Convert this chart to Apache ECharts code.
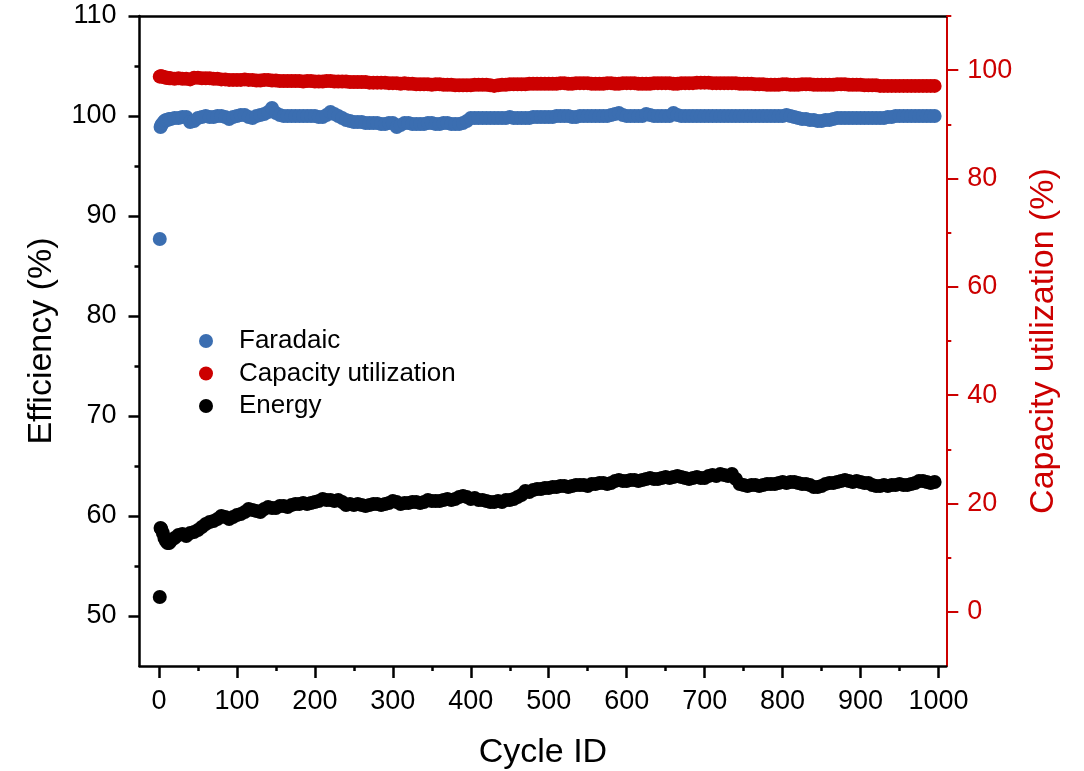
<!DOCTYPE html>
<html>
<head>
<meta charset="utf-8">
<script src="https://cdn.jsdelivr.net/npm/echarts@6/dist/echarts.min.js"></script>
<style>
  html, body { margin: 0; padding: 0; background: #fff; }
  #chart { width: 1084px; height: 771px; }
</style>
</head>
<body>
<div id="chart"></div>
<script>
// Cycle numbers at which the efficiencies are plotted
const cycles = [1, 2, 3, 5, 7, 9, 11, 13, 15,
  20, 25, 30, 35, 40, 45, 50, 55, 60, 65, 70, 75, 80, 85, 90, 95,
  100, 105, 110, 115, 120, 125, 130, 135, 140, 145, 150, 155, 160, 165, 170, 175, 180, 185, 190, 195,
  200, 205, 210, 215, 220, 225, 230, 235, 240, 245, 250, 255, 260, 265, 270, 275, 280, 285, 290, 295,
  300, 305, 310, 315, 320, 325, 330, 335, 340, 345, 350, 355, 360, 365, 370, 375, 380, 385, 390, 395,
  400, 405, 410, 415, 420, 425, 430, 435, 440, 445, 450, 455, 460, 465, 470, 475, 480, 485, 490, 495,
  500, 505, 510, 515, 520, 525, 530, 535, 540, 545, 550, 555, 560, 565, 570, 575, 580, 585, 590, 595,
  600, 605, 610, 615, 620, 625, 630, 635, 640, 645, 650, 655, 660, 665, 670, 675, 680, 685, 690, 695,
  700, 705, 710, 715, 720, 725, 730, 735, 740, 745, 750, 755, 760, 765, 770, 775, 780, 785, 790, 795,
  800, 805, 810, 815, 820, 825, 830, 835, 840, 845, 850, 855, 860, 865, 870, 875, 880, 885, 890, 895,
  900, 905, 910, 915, 920, 925, 930, 935, 940, 945, 950, 955, 960, 965, 970, 975, 980, 985, 990, 995];

// Faradaic efficiency (%), left axis
const faradaic = [87.7, 98.9, 99.1, 99.3, 99.5, 99.6, 99.6, 99.7, 99.7,
  99.8, 99.8, 99.9, 99.9, 99.4, 99.5, 99.8, 99.9, 100.0, 99.9, 99.9, 100.0, 100.0, 99.9, 99.7, 99.9,
  100.0, 100.1, 100.1, 99.9, 99.8, 100.0, 100.1, 100.2, 100.4, 100.8, 100.3, 100.1, 100.0, 100.0, 100.0, 100.0, 100.0, 100.0, 100.0, 100.0,
  100.0, 99.9, 99.9, 100.1, 100.4, 100.2, 100.0, 99.8, 99.6, 99.5, 99.4, 99.4, 99.4, 99.3, 99.3, 99.3, 99.3, 99.2, 99.2, 99.3,
  99.3, 98.9, 99.1, 99.3, 99.3, 99.2, 99.2, 99.2, 99.2, 99.3, 99.3, 99.2, 99.2, 99.3, 99.3, 99.2, 99.2, 99.2, 99.3, 99.5,
  99.8, 99.8, 99.8, 99.8, 99.8, 99.8, 99.8, 99.8, 99.8, 99.8, 99.9, 99.8, 99.8, 99.8, 99.8, 99.8, 99.9, 99.9, 99.9, 99.9,
  99.9, 99.9, 100.0, 100.0, 100.0, 100.0, 99.9, 99.9, 100.0, 100.0, 100.0, 100.0, 100.0, 100.0, 100.0, 100.0, 100.1, 100.2, 100.3, 100.1,
  100.0, 100.0, 100.0, 100.0, 100.0, 100.2, 100.1, 100.0, 100.0, 100.0, 100.0, 100.0, 100.3, 100.1, 100.0, 100.0, 100.0, 100.0, 100.0, 100.0,
  100.0, 100.0, 100.0, 100.0, 100.0, 100.0, 100.0, 100.0, 100.0, 100.0, 100.0, 100.0, 100.0, 100.0, 100.0, 100.0, 100.0, 100.0, 100.0, 100.0,
  100.0, 100.1, 100.0, 99.9, 99.8, 99.7, 99.7, 99.6, 99.6, 99.5, 99.5, 99.6, 99.6, 99.7, 99.8, 99.8, 99.8, 99.8, 99.8, 99.8,
  99.8, 99.8, 99.8, 99.8, 99.8, 99.8, 99.8, 99.9, 99.9, 100.0, 100.0, 100.0, 100.0, 100.0, 100.0, 100.0, 100.0, 100.0, 100.0, 100.0];

// Capacity utilization (%), right axis
const capacity = [98.8, 98.9, 98.9, 98.8, 98.7, 98.6, 98.6, 98.5, 98.5,
  98.4, 98.5, 98.4, 98.4, 98.3, 98.6, 98.6, 98.5, 98.5, 98.5, 98.4, 98.4, 98.3, 98.3, 98.2, 98.2,
  98.2, 98.2, 98.3, 98.2, 98.2, 98.1, 98.1, 98.2, 98.2, 98.1, 98.1, 98.0, 98.0, 98.0, 98.0, 98.0, 98.0, 97.9, 98.0, 98.0,
  97.9, 97.9, 97.9, 98.0, 98.0, 97.9, 97.9, 97.9, 97.9, 97.8, 97.8, 97.8, 97.8, 97.8, 97.7, 97.7, 97.7, 97.7, 97.7, 97.6,
  97.6, 97.6, 97.5, 97.6, 97.5, 97.5, 97.4, 97.4, 97.4, 97.4, 97.3, 97.4, 97.4, 97.3, 97.3, 97.3, 97.2, 97.2, 97.2, 97.2,
  97.2, 97.3, 97.3, 97.3, 97.3, 97.2, 97.1, 97.2, 97.3, 97.3, 97.4, 97.4, 97.4, 97.4, 97.4, 97.5, 97.5, 97.5, 97.5, 97.5,
  97.5, 97.5, 97.5, 97.6, 97.6, 97.5, 97.5, 97.6, 97.6, 97.6, 97.6, 97.5, 97.5, 97.5, 97.5, 97.6, 97.6, 97.5, 97.5, 97.6,
  97.6, 97.6, 97.6, 97.5, 97.5, 97.5, 97.5, 97.6, 97.6, 97.6, 97.6, 97.6, 97.5, 97.5, 97.6, 97.6, 97.6, 97.6, 97.7, 97.7,
  97.7, 97.7, 97.6, 97.6, 97.6, 97.6, 97.6, 97.6, 97.6, 97.5, 97.5, 97.5, 97.5, 97.4, 97.4, 97.4, 97.3, 97.3, 97.3, 97.3,
  97.4, 97.4, 97.3, 97.3, 97.3, 97.4, 97.4, 97.4, 97.3, 97.3, 97.3, 97.3, 97.3, 97.3, 97.4, 97.4, 97.4, 97.3, 97.3, 97.3,
  97.3, 97.2, 97.2, 97.2, 97.2, 97.1, 97.1, 97.1, 97.1, 97.1, 97.1, 97.1, 97.1, 97.1, 97.1, 97.1, 97.1, 97.1, 97.1, 97.1];

// Energy efficiency (%), left axis
const energy = [51.9, 58.8, 58.7, 58.3, 57.8, 57.5, 57.3, 57.3, 57.5,
  57.8, 58.1, 58.2, 58.0, 58.3, 58.4, 58.6, 58.9, 59.2, 59.4, 59.5, 59.7, 60.0, 59.9, 59.7, 59.9,
  60.1, 60.2, 60.4, 60.7, 60.6, 60.5, 60.4, 60.7, 60.9, 60.8, 60.8, 61.0, 61.0, 60.9, 61.1, 61.2, 61.2, 61.3, 61.2, 61.3,
  61.4, 61.5, 61.7, 61.6, 61.6, 61.5, 61.6, 61.4, 61.1, 61.2, 61.1, 61.2, 61.1, 61.0, 61.1, 61.2, 61.2, 61.1, 61.2, 61.3,
  61.5, 61.4, 61.2, 61.3, 61.3, 61.4, 61.4, 61.3, 61.4, 61.6, 61.5, 61.5, 61.5, 61.6, 61.7, 61.6, 61.7, 61.9, 62.0, 61.9,
  61.7, 61.8, 61.6, 61.6, 61.5, 61.4, 61.4, 61.5, 61.4, 61.6, 61.6, 61.7, 61.9, 62.1, 62.5, 62.4, 62.6, 62.7, 62.7, 62.8,
  62.8, 62.9, 62.9, 63.0, 63.0, 62.9, 63.0, 63.1, 63.1, 63.1, 63.0, 63.2, 63.2, 63.3, 63.3, 63.2, 63.3, 63.5, 63.6, 63.5,
  63.5, 63.6, 63.6, 63.5, 63.6, 63.7, 63.8, 63.7, 63.7, 63.8, 63.9, 63.8, 63.9, 64.0, 63.9, 63.8, 63.7, 63.8, 63.9, 63.8,
  63.8, 64.0, 64.1, 64.0, 64.2, 64.1, 64.0, 64.2, 63.7, 63.2, 63.1, 63.0, 63.1, 63.1, 63.0, 63.1, 63.2, 63.2, 63.2, 63.3,
  63.4, 63.3, 63.4, 63.4, 63.3, 63.2, 63.2, 63.1, 62.9, 62.9, 63.0, 63.2, 63.3, 63.3, 63.4, 63.5, 63.6, 63.5, 63.4, 63.5,
  63.4, 63.3, 63.3, 63.1, 63.0, 63.0, 63.1, 63.0, 63.1, 63.1, 63.2, 63.1, 63.1, 63.2, 63.3, 63.5, 63.5, 63.4, 63.3, 63.4];

// Tick values
const xMajorTicks = [0, 100, 200, 300, 400, 500, 600, 700, 800, 900, 1000];
const xMinorTicks = [50, 150, 250, 350, 450, 550, 650, 750, 850, 950];
const leftMajorTicks = [50, 60, 70, 80, 90, 100, 110];
const leftMinorTicks = [55, 65, 75, 85, 95, 105];
const rightMajorTicks = [0, 20, 40, 60, 80, 100];
const rightMinorTicks = [10, 30, 50, 70, 90, 110];

const FONT = '"Liberation Sans", Arial, sans-serif';
const BLUE = '#3b6eb1';
const RED = '#cc0000';
const BLACK = '#000000';

const pairs = (ys) => cycles.map((c, i) => [c, ys[i]]);
const plain = (v) => String(v);

const X_MIN = -25, X_MAX = 1010;
const L_MIN = 45, L_MAX = 110;
const R_MIN = -10, R_MAX = 110;

const chart = echarts.init(document.getElementById('chart'), null, { renderer: 'canvas' });

chart.setOption({
  animation: false,
  backgroundColor: '#ffffff',
  grid: { left: 139.5, right: 137.7, top: 16, bottom: 105, containLabel: false, outerBoundsMode: 'none' },
  legend: {
    orient: 'vertical',
    left: 194,
    top: 323,
    itemWidth: 56,
    itemHeight: 14,
    itemGap: 6.5,
    icon: 'circle',
    textStyle: { fontFamily: FONT, fontSize: 26, color: '#000', lineHeight: 26 },
    data: ['Faradaic', 'Capacity utilization', 'Energy']
  },
  xAxis: [
    {
      type: 'value', position: 'bottom', min: X_MIN, max: X_MAX,
      name: 'Cycle ID', nameLocation: 'middle', nameGap: 70,
      nameTextStyle: { fontFamily: FONT, fontSize: 34, color: '#000' },
      axisLine: { show: true, onZero: false, lineStyle: { color: BLACK, width: 2.5 } },
      axisTick: { show: true, inside: false, length: 12, customValues: xMajorTicks, lineStyle: { color: BLACK, width: 2.5 } },
      axisLabel: { show: true, margin: 22, customValues: xMajorTicks, formatter: plain, fontFamily: FONT, fontSize: 27, color: '#000' },
      splitLine: { show: false }
    },
    {
      type: 'value', position: 'bottom', min: X_MIN, max: X_MAX,
      axisLine: { show: false, onZero: false },
      axisTick: { show: true, length: 5, customValues: xMinorTicks, lineStyle: { color: BLACK, width: 2.5 } },
      axisLabel: { show: false },
      splitLine: { show: false }
    },
    {
      type: 'value', position: 'top', min: X_MIN, max: X_MAX,
      axisLine: { show: true, onZero: false, lineStyle: { color: BLACK, width: 2.5 } },
      axisTick: { show: false },
      axisLabel: { show: false },
      splitLine: { show: false }
    }
  ],
  yAxis: [
    {
      type: 'value', position: 'left', min: L_MIN, max: L_MAX,
      name: 'Efficiency (%)', nameLocation: 'middle', nameGap: 81, nameRotate: 90,
      nameTextStyle: { fontFamily: FONT, fontSize: 34, color: '#000' },
      axisLine: { show: true, onZero: false, lineStyle: { color: BLACK, width: 2.5 } },
      axisTick: { show: true, length: 11, customValues: leftMajorTicks, lineStyle: { color: BLACK, width: 2.5 } },
      axisLabel: { show: true, margin: 23, customValues: leftMajorTicks, formatter: plain, fontFamily: FONT, fontSize: 27, color: '#000' },
      splitLine: { show: false }
    },
    {
      type: 'value', position: 'right', min: R_MIN, max: R_MAX,
      name: 'Capacity utilization (%)', nameLocation: 'middle', nameGap: 80, nameRotate: 90,
      nameTextStyle: { fontFamily: FONT, fontSize: 34, color: RED },
      axisLine: { show: true, onZero: false, lineStyle: { color: RED, width: 2 } },
      axisTick: { show: true, length: 12, customValues: rightMajorTicks, lineStyle: { color: RED, width: 2 } },
      axisLabel: { show: true, margin: 21, customValues: rightMajorTicks, formatter: plain, fontFamily: FONT, fontSize: 27, color: RED },
      splitLine: { show: false }
    },
    {
      type: 'value', position: 'left', min: L_MIN, max: L_MAX,
      axisLine: { show: false, onZero: false },
      axisTick: { show: true, length: 5, customValues: leftMinorTicks, lineStyle: { color: BLACK, width: 2.5 } },
      axisLabel: { show: false },
      splitLine: { show: false }
    },
    {
      type: 'value', position: 'right', min: R_MIN, max: R_MAX,
      axisLine: { show: false, onZero: false },
      axisTick: { show: true, length: 5, customValues: rightMinorTicks, lineStyle: { color: RED, width: 2 } },
      axisLabel: { show: false },
      splitLine: { show: false }
    }
  ],
  series: [
    {
      name: 'Faradaic', type: 'scatter', xAxisIndex: 0, yAxisIndex: 0,
      symbol: 'circle', symbolSize: 14,
      itemStyle: { color: BLUE, opacity: 1 },
      data: pairs(faradaic)
    },
    {
      name: 'Capacity utilization', type: 'scatter', xAxisIndex: 0, yAxisIndex: 1,
      symbol: 'circle', symbolSize: 14,
      itemStyle: { color: RED, opacity: 1 },
      data: pairs(capacity)
    },
    {
      name: 'Energy', type: 'scatter', xAxisIndex: 0, yAxisIndex: 0,
      symbol: 'circle', symbolSize: 14,
      itemStyle: { color: BLACK, opacity: 1 },
      data: pairs(energy)
    }
  ]
});
</script>
</body>
</html>
